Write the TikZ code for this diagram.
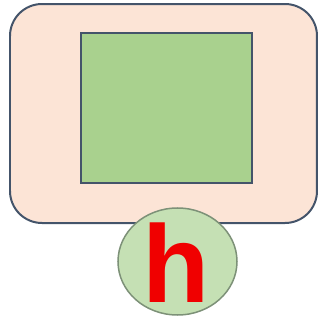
\documentclass[tikz,border=0pt]{standalone}
\usepackage{fontspec}
\setmainfont{Liberation Sans}
\definecolor{peach}{RGB}{252,228,214}
\definecolor{slate}{RGB}{68,84,106}
\definecolor{leaf}{RGB}{169,209,142}
\definecolor{paleleaf}{RGB}{197,224,180}
\definecolor{ringgray}{RGB}{125,145,120}
\definecolor{hred}{RGB}{240,0,0}
\begin{document}
\begin{tikzpicture}[x=1pt,y=1pt,
  outerbox/.style={fill=peach,draw=slate,line width=2pt,rounded corners=32pt},
  innerbox/.style={fill=leaf,draw=slate,line width=2.5pt},
  bubble/.style={fill=paleleaf,draw=ringgray,line width=1.5pt}]
\useasboundingbox (0,0) rectangle (320,325);
\path[outerbox] (10,102) rectangle (317,321);
\path[innerbox] (81,142) rectangle (252,292);
\path[bubble] (177.5,63.5) ellipse [x radius=59.5, y radius=53.5];
\node[anchor=base,inner sep=0pt,text=hred,font=\fontsize{110}{110}\selectfont\bfseries] (h) at (176,23) {h};
\end{tikzpicture}
\end{document}
